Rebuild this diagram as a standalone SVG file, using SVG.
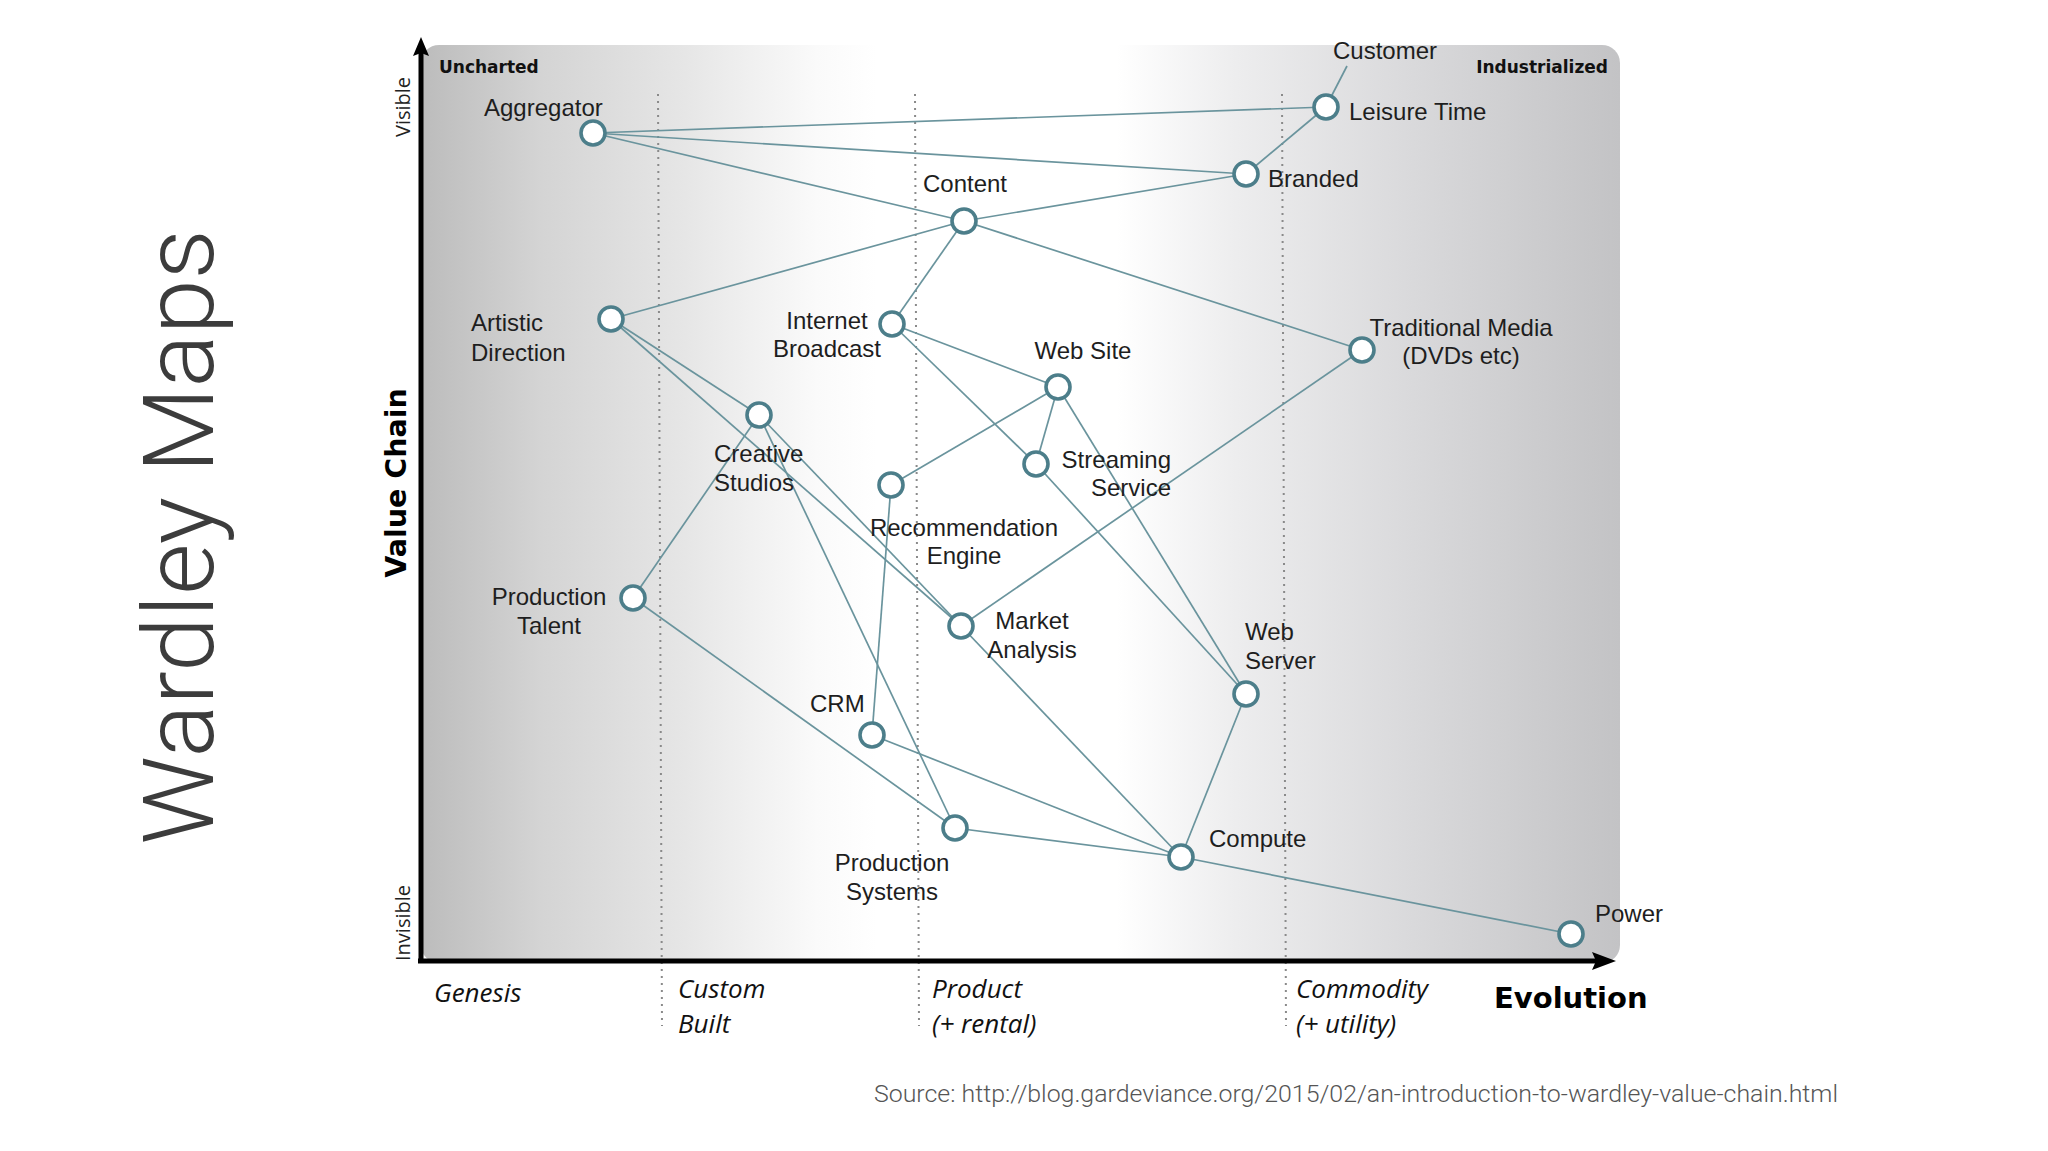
<svg xmlns="http://www.w3.org/2000/svg" width="2048" height="1151" viewBox="0 0 2048 1151">
<defs>
<linearGradient id="bg" x1="0" y1="0" x2="1" y2="0">
<stop offset="0" stop-color="#bcbcbc"/>
<stop offset="0.1" stop-color="#d4d4d4"/>
<stop offset="0.22" stop-color="#e6e6e6"/>
<stop offset="0.33" stop-color="#fafafa"/>
<stop offset="0.38" stop-color="#ffffff"/>
<stop offset="0.58" stop-color="#ffffff"/>
<stop offset="0.68" stop-color="#ededee"/>
<stop offset="0.82" stop-color="#dadadc"/>
<stop offset="1" stop-color="#c3c3c5"/>
</linearGradient>
<style>
.edge{stroke:#6a949d;stroke-width:1.7;fill:none}
.node{fill:#ffffff;stroke:#4c7e8a;stroke-width:3.6}
.lbl{font-family:"Liberation Sans",Arial,sans-serif;font-size:24px;fill:#1e1e1e}
.mid{text-anchor:middle}
.end{text-anchor:end}
.dot{stroke:#8a8a8a;stroke-width:2;stroke-dasharray:2 5;fill:none}
.axis{stroke:#000;stroke-width:5;fill:none}
.corner{font-family:"DejaVu Sans",sans-serif;font-weight:bold;font-size:17px;fill:#111}
.stage{font-family:"Open Sans",sans-serif;font-style:italic;font-size:26px;fill:#111}
.vis{font-family:"Open Sans",sans-serif;font-size:20px;fill:#222}
</style>
</defs>
<rect x="0" y="0" width="2048" height="1151" fill="#ffffff"/>
<g id="title">
<text transform="translate(213,537) rotate(-90)" text-anchor="middle" font-family="Roboto,sans-serif" font-weight="300" font-size="99" fill="#3c3c3c">Wardley Maps</text>
</g>
<g id="map-background">
<rect x="421" y="45" width="1199" height="918" rx="18" fill="url(#bg)"/>
</g>
<g id="stage-dividers">
<line class="dot" x1="658" y1="94" x2="662" y2="1026"/>
<line class="dot" x1="915" y1="94" x2="919" y2="1026"/>
<line class="dot" x1="1282" y1="94" x2="1286" y2="1026"/>
</g>
<g id="axes">
<line class="axis" x1="421" y1="963" x2="421" y2="50"/>
<path d="M421,37 L429,56 L421,53 L413,56 Z" fill="#000"/>
<line class="axis" x1="418" y1="961" x2="1600" y2="961"/>
<path d="M1616,961 L1592,952 L1596,961 L1592,970 Z" fill="#000"/>
<text class="corner" x="439" y="73">Uncharted</text>
<text class="corner end" x="1608" y="73">Industrialized</text>
<text class="vis" transform="translate(410,107) rotate(-90)" text-anchor="middle">Visible</text>
<text class="vis" transform="translate(410,923) rotate(-90)" text-anchor="middle">Invisible</text>
<text transform="translate(406,483) rotate(-90)" text-anchor="middle" font-family="DejaVu Sans,sans-serif" font-weight="bold" font-size="28.5" fill="#000">Value Chain</text>
<text x="1494" y="1008" font-family="DejaVu Sans,sans-serif" font-weight="bold" font-size="29" fill="#000">Evolution</text>
<text class="stage" x="434" y="1002">Genesis</text>
<text class="stage" x="678" y="998">Custom</text>
<text class="stage" x="678" y="1033">Built</text>
<text class="stage" x="932" y="998">Product</text>
<text class="stage" x="932" y="1033">(+ rental)</text>
<text class="stage" x="1296" y="998">Commodity</text>
<text class="stage" x="1296" y="1033">(+ utility)</text>
</g>
<g id="connectors">
<line class="edge" x1="1347" y1="66" x2="1331" y2="97"/>
<line class="edge" x1="593" y1="133" x2="1326" y2="107"/>
<line class="edge" x1="593" y1="133" x2="1246" y2="174"/>
<line class="edge" x1="593" y1="133" x2="964" y2="221"/>
<line class="edge" x1="1326" y1="107" x2="1246" y2="174"/>
<line class="edge" x1="1246" y1="174" x2="964" y2="221"/>
<line class="edge" x1="964" y1="221" x2="611" y2="319"/>
<line class="edge" x1="964" y1="221" x2="892" y2="324"/>
<line class="edge" x1="964" y1="221" x2="1362" y2="350"/>
<line class="edge" x1="611" y1="319" x2="759" y2="415"/>
<line class="edge" x1="611" y1="319" x2="961" y2="626"/>
<line class="edge" x1="892" y1="324" x2="1058" y2="387"/>
<line class="edge" x1="892" y1="324" x2="1036" y2="464"/>
<line class="edge" x1="1058" y1="387" x2="891" y2="485"/>
<line class="edge" x1="1058" y1="387" x2="1036" y2="464"/>
<line class="edge" x1="1058" y1="387" x2="1246" y2="694"/>
<line class="edge" x1="1036" y1="464" x2="1246" y2="694"/>
<line class="edge" x1="1362" y1="350" x2="961" y2="626"/>
<line class="edge" x1="759" y1="415" x2="633" y2="598"/>
<line class="edge" x1="759" y1="415" x2="961" y2="626"/>
<line class="edge" x1="759" y1="415" x2="955" y2="828"/>
<line class="edge" x1="633" y1="598" x2="955" y2="828"/>
<line class="edge" x1="891" y1="485" x2="872" y2="735"/>
<line class="edge" x1="872" y1="735" x2="1181" y2="857"/>
<line class="edge" x1="955" y1="828" x2="1181" y2="857"/>
<line class="edge" x1="961" y1="626" x2="1181" y2="857"/>
<line class="edge" x1="1246" y1="694" x2="1181" y2="857"/>
<line class="edge" x1="1181" y1="857" x2="1571" y2="934"/>
</g>
<g id="customer"><text class="lbl" x="1333" y="59">Customer</text></g>
<g id="leisure-time"><circle class="node" cx="1326" cy="107" r="12"/><text class="lbl" x="1349" y="120">Leisure Time</text></g>
<g id="branded"><circle class="node" cx="1246" cy="174" r="12"/><text class="lbl" x="1268" y="187">Branded</text></g>
<g id="aggregator"><circle class="node" cx="593" cy="133" r="12"/><text class="lbl" x="484" y="116">Aggregator</text></g>
<g id="content"><circle class="node" cx="964" cy="221" r="12"/><text class="lbl mid" x="965" y="192">Content</text></g>
<g id="artistic-direction"><circle class="node" cx="611" cy="319" r="12"/><text class="lbl" x="471" y="331">Artistic</text><text class="lbl" x="471" y="361">Direction</text></g>
<g id="internet-broadcast"><circle class="node" cx="892" cy="324" r="12"/><text class="lbl mid" x="827" y="329">Internet</text><text class="lbl mid" x="827" y="357">Broadcast</text></g>
<g id="traditional-media"><circle class="node" cx="1362" cy="350" r="12"/><text class="lbl mid" x="1461" y="336">Traditional Media</text><text class="lbl mid" x="1461" y="364">(DVDs etc)</text></g>
<g id="web-site"><circle class="node" cx="1058" cy="387" r="12"/><text class="lbl mid" x="1083" y="359">Web Site</text></g>
<g id="creative-studios"><circle class="node" cx="759" cy="415" r="12"/><text class="lbl" x="714" y="462">Creative</text><text class="lbl" x="714" y="491">Studios</text></g>
<g id="streaming-service"><circle class="node" cx="1036" cy="464" r="12"/><text class="lbl end" x="1171" y="468">Streaming</text><text class="lbl end" x="1171" y="496">Service</text></g>
<g id="recommendation-engine"><circle class="node" cx="891" cy="485" r="12"/><text class="lbl mid" x="964" y="536">Recommendation</text><text class="lbl mid" x="964" y="564">Engine</text></g>
<g id="production-talent"><circle class="node" cx="633" cy="598" r="12"/><text class="lbl mid" x="549" y="605">Production</text><text class="lbl mid" x="549" y="634">Talent</text></g>
<g id="market-analysis"><circle class="node" cx="961" cy="626" r="12"/><text class="lbl mid" x="1032" y="629">Market</text><text class="lbl mid" x="1032" y="658">Analysis</text></g>
<g id="web-server"><circle class="node" cx="1246" cy="694" r="12"/><text class="lbl" x="1245" y="640">Web</text><text class="lbl" x="1245" y="669">Server</text></g>
<g id="crm"><circle class="node" cx="872" cy="735" r="12"/><text class="lbl" x="810" y="712">CRM</text></g>
<g id="production-systems"><circle class="node" cx="955" cy="828" r="12"/><text class="lbl mid" x="892" y="871">Production</text><text class="lbl mid" x="892" y="900">Systems</text></g>
<g id="compute"><circle class="node" cx="1181" cy="857" r="12"/><text class="lbl" x="1209" y="847">Compute</text></g>
<g id="power"><circle class="node" cx="1571" cy="934" r="12"/><text class="lbl" x="1595" y="922">Power</text></g>
<g id="source">
<text x="874" y="1102" font-family="Roboto,sans-serif" font-weight="300" font-size="24" fill="#555" textLength="964" lengthAdjust="spacingAndGlyphs">Source: http://blog.gardeviance.org/2015/02/an-introduction-to-wardley-value-chain.html</text>
</g>
</svg>
